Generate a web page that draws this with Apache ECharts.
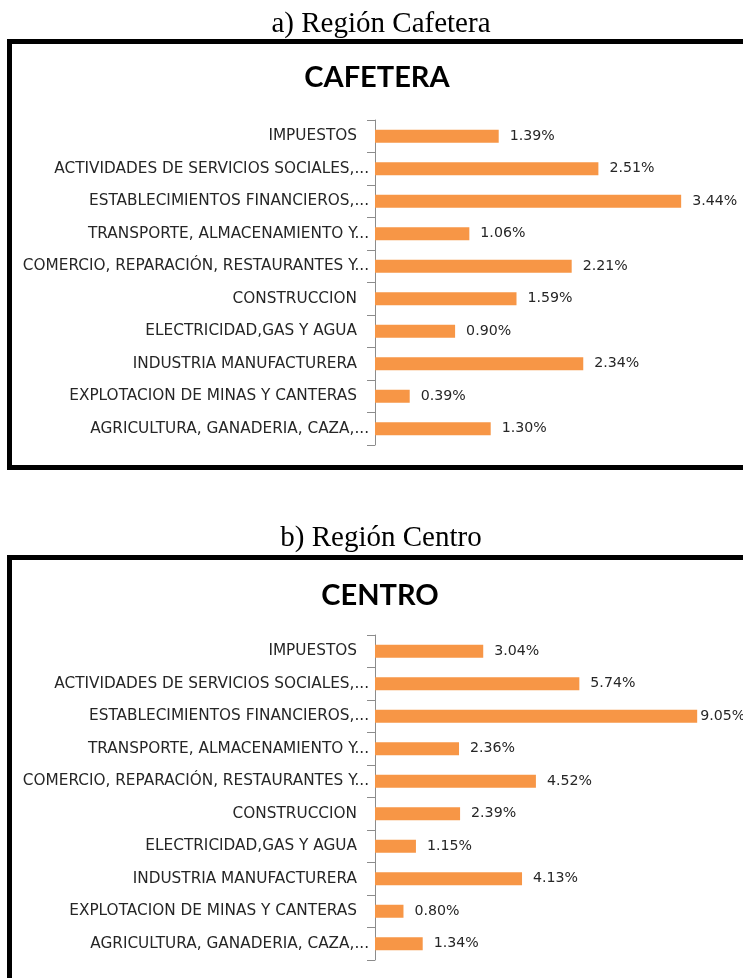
<!DOCTYPE html>
<html>
<head>
<meta charset="utf-8">
<script src="https://cdn.jsdelivr.net/npm/echarts@6/dist/echarts.min.js"></script>
<style>
html,body{margin:0;padding:0;background:#fff;}
#c{width:743px;height:978px;}
</style>
</head>
<body>
<div id="c"></div>
<script>
// Data (top to bottom as shown)
var categories = [
  "IMPUESTOS",
  "ACTIVIDADES DE SERVICIOS SOCIALES,...",
  "ESTABLECIMIENTOS FINANCIEROS,...",
  "TRANSPORTE, ALMACENAMIENTO Y...",
  "COMERCIO, REPARACIÓN, RESTAURANTES Y...",
  "CONSTRUCCION",
  "ELECTRICIDAD,GAS Y AGUA",
  "INDUSTRIA MANUFACTURERA",
  "EXPLOTACION DE MINAS Y CANTERAS",
  "AGRICULTURA, GANADERIA, CAZA,..."
];
var cafeteraValues = [1.39, 2.51, 3.44, 1.06, 2.21, 1.59, 0.90, 2.34, 0.39, 1.30];
var centroValues   = [3.04, 5.74, 9.05, 2.36, 4.52, 2.39, 1.15, 4.13, 0.80, 1.34];
var cafeteraMax = 4;
var centroMax = 10;
var captions = ["a) Región Cafetera", "b) Región Centro"];
var titles = ["CAFETERA", "CENTRO"];

var chart = echarts.init(document.getElementById('c'), null, {renderer: 'canvas'});

var ORANGE = '#F79646';
var TXT = '#262626';

function yAxis(gi) {
  return {
    type: 'category', gridIndex: gi, data: categories, inverse: true,
    axisLine: {show: true, lineStyle: {color: '#8c8c8c', width: 1}},
    axisTick: {show: true, length: 8, lineStyle: {color: '#8c8c8c'}},
    axisLabel: {
      margin: 6,
      fontFamily: 'DejaVu Sans', fontSize: 15.3, color: TXT,
      formatter: function (v) {
        return /\.\.\.$/.test(v) ? '{a|' + v + '}' : '{b|' + v + '}';
      },
      rich: {
        a: {fontFamily: 'DejaVu Sans', fontSize: 15.3, color: TXT},
        b: {fontFamily: 'DejaVu Sans', fontSize: 15.3, color: TXT, padding: [0, 12, 0, 0]}
      }
    }
  };
}
function xAxis(gi, max) {
  return {type: 'value', gridIndex: gi, min: 0, max: max, show: false, splitLine: {show: false}};
}
function series(gi, vals, max) {
  return {
    type: 'bar', xAxisIndex: gi, yAxisIndex: gi, barWidth: 13,
    itemStyle: {color: ORANGE},
    label: {
      show: true, position: 'right', distance: 11,
      fontFamily: 'DejaVu Sans', fontSize: 14.2, color: TXT,
      formatter: function (p) { return p.value.toFixed(2) + '%'; }
    },
    data: vals.map(function (v) {
      var d = {value: v};
      if (v / max > 0.88) d.label = {distance: 3};
      return d;
    })
  };
}

var option = {
  animation: false,
  backgroundColor: '#ffffff',
  grid: [
    {left: 375, width: 356, top: 120, height: 325, containLabel: false},
    {left: 375, width: 356, top: 635, height: 325, containLabel: false}
  ],
  xAxis: [xAxis(0, cafeteraMax), xAxis(1, centroMax)],
  yAxis: [yAxis(0), yAxis(1)],
  series: [series(0, cafeteraValues, cafeteraMax), series(1, centroValues, centroMax)],
  graphic: [
    {type: 'text', x: 381, y: 24, style: {text: captions[0], font: '29px "Liberation Serif"', fill: '#000', textAlign: 'center', textVerticalAlign: 'middle'}},
    {type: 'text', x: 381, y: 538, style: {text: captions[1], font: '29px "Liberation Serif"', fill: '#000', textAlign: 'center', textVerticalAlign: 'middle'}},
    {type: 'text', x: 377, y: 78, style: {text: titles[0], font: 'bold 29px Lato', fill: '#000', textAlign: 'center', textVerticalAlign: 'middle'}},
    {type: 'text', x: 380, y: 596, style: {text: titles[1], font: 'bold 29px Lato', fill: '#000', textAlign: 'center', textVerticalAlign: 'middle'}},
    {type: 'rect', shape: {x: 9.5, y: 41.5, width: 760, height: 426}, style: {fill: null, stroke: '#000', lineWidth: 5}, silent: true},
    {type: 'rect', shape: {x: 9.5, y: 557.5, width: 760, height: 440}, style: {fill: null, stroke: '#000', lineWidth: 5}, silent: true}
  ]
};
chart.setOption(option);
</script>
</body>
</html>
